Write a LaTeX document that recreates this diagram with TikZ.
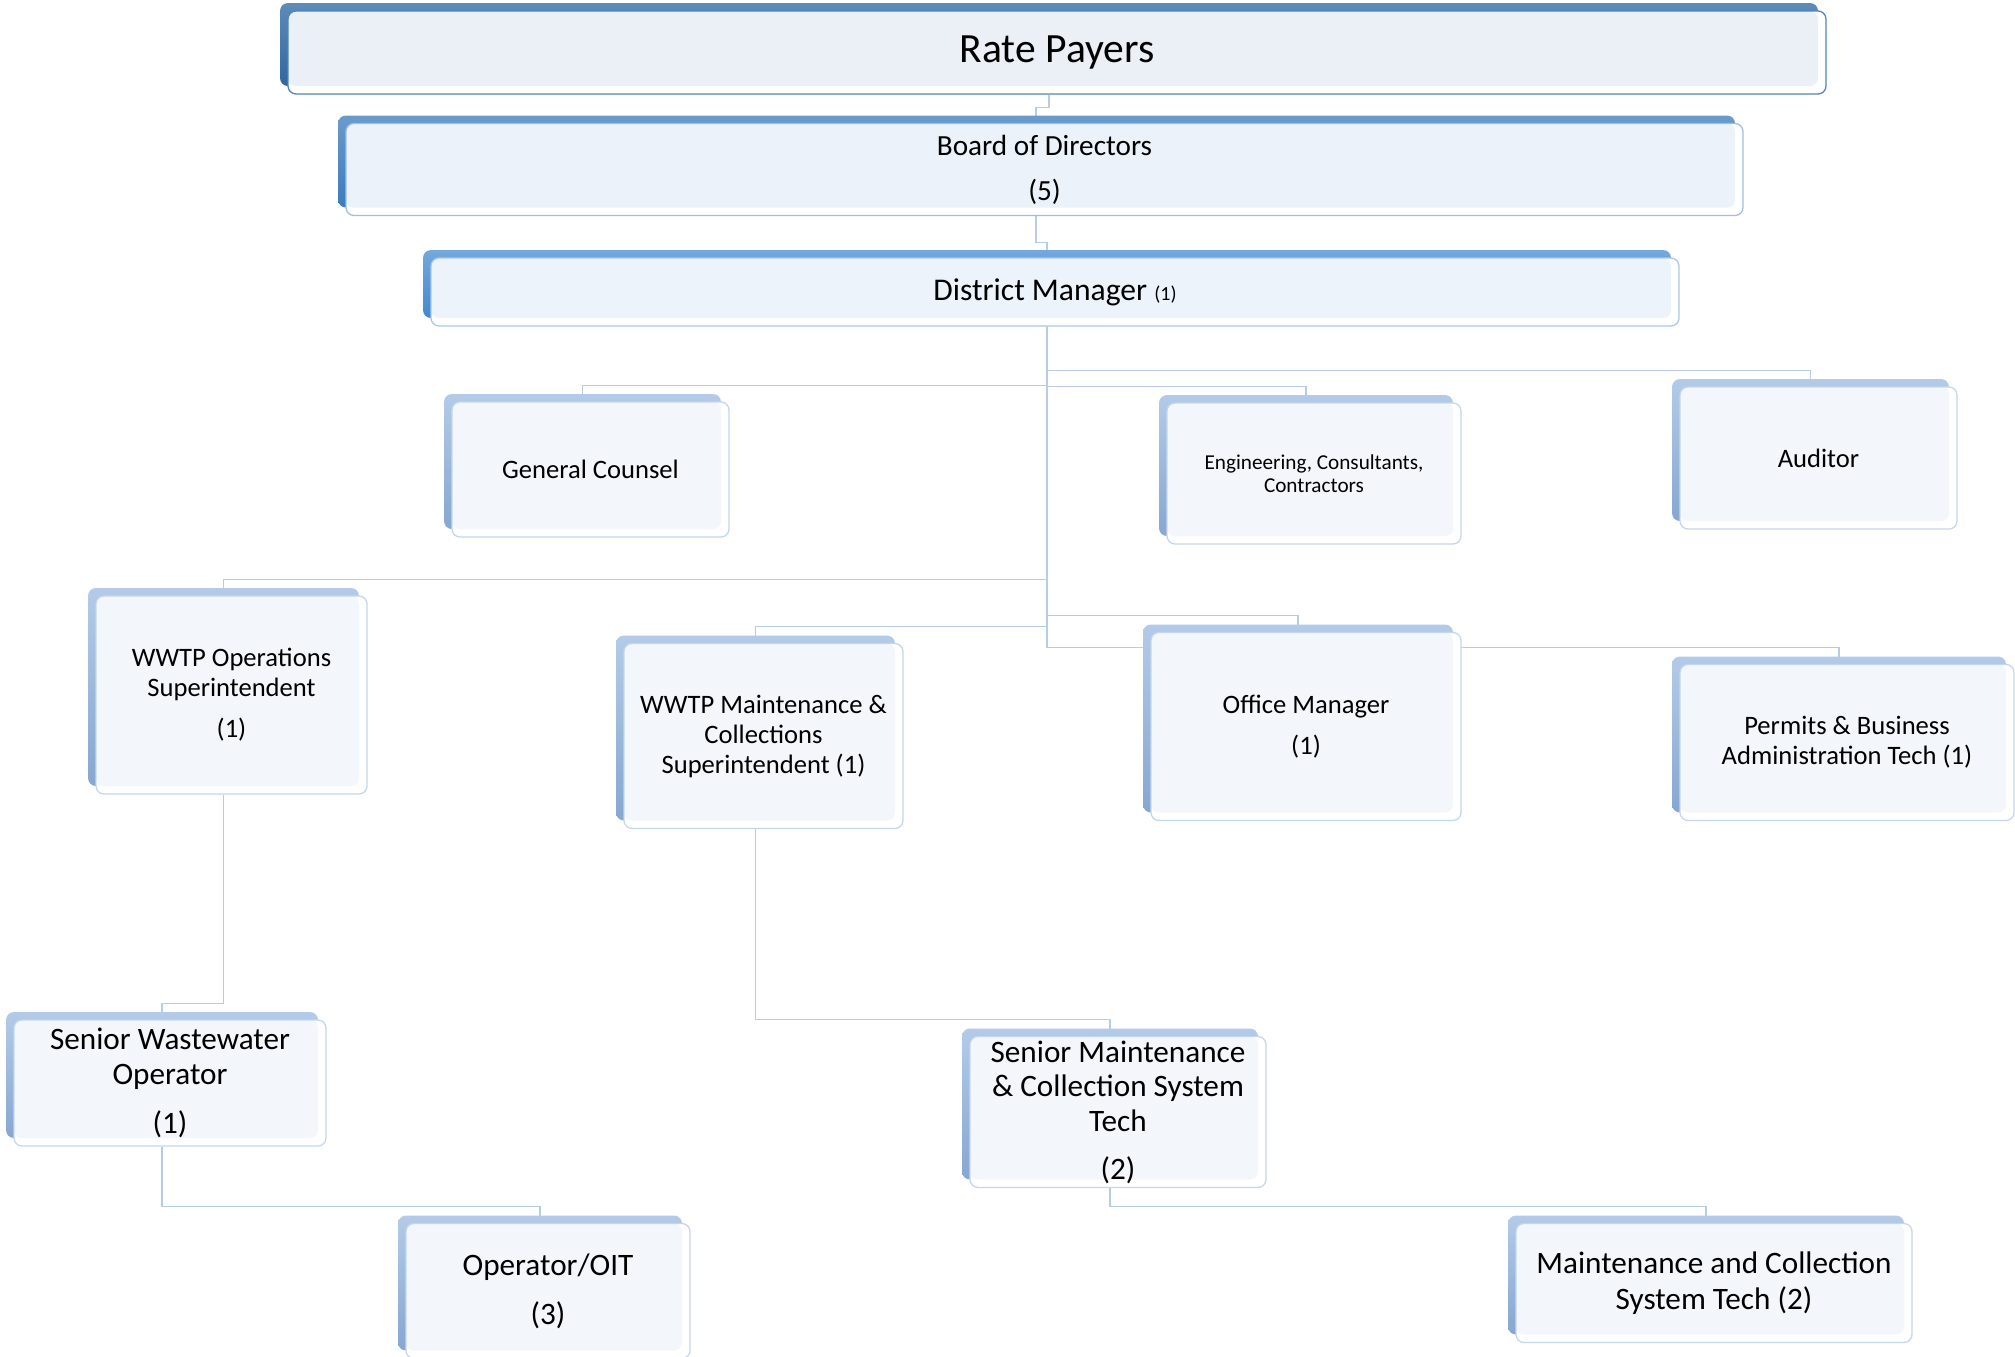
\documentclass[tikz,border=0pt]{standalone}
\usepackage{fontspec}
\setmainfont{Carlito}
\usetikzlibrary{shadows,backgrounds}

\definecolor{ratetop}{HTML}{5E8BB8}
\definecolor{ratebot}{HTML}{2F679F}
\definecolor{ratefill}{HTML}{EAF0F6}
\definecolor{rateedge}{HTML}{4F86BD}
\definecolor{boardtop}{HTML}{6A9BCC}
\definecolor{boardbot}{HTML}{3B7CBE}
\definecolor{boardfill}{HTML}{ECF2F9}
\definecolor{boardedge}{HTML}{9EBFE3}
\definecolor{dmtop}{HTML}{74A8DD}
\definecolor{dmbot}{HTML}{4288D0}
\definecolor{dmfill}{HTML}{EDF3FB}
\definecolor{dmedge}{HTML}{ABC7E8}
\definecolor{lowtop}{HTML}{B3CBE8}
\definecolor{lowbot}{HTML}{86A7D0}
\definecolor{lowfill}{HTML}{F3F6FA}
\definecolor{lowedge}{HTML}{C5D6EC}
\definecolor{linkblue}{HTML}{B8CCE5}

\begin{document}
\begin{tikzpicture}[x=0.5pt,y=-0.5pt,
    box/.style={draw=#1edge, line width=0.65pt, fill=white, rounded corners=4pt,
        inner sep=2pt, align=center, font=\fontsize{13.3}{15}\selectfont,
        general shadow={shadow xshift=-4pt, shadow yshift=4pt, top color=#1top, bottom color=#1bot},
        path picture={\fill[#1fill, rounded corners=4pt] (path picture bounding box.north west)
            rectangle ([xshift=-4pt,yshift=4pt]path picture bounding box.south east);}},
    box/.default=low,
    big/.style={font=\fontsize{15.6}{17.25}\selectfont},
    link/.style={draw=linkblue, line width=0.6pt}]
    \useasboundingbox (0,0) rectangle (2015,1356);

    % top of the chart
    \node[box=rate, minimum width=769pt, minimum height=41.5pt, font=\fontsize{20.8}{24}\selectfont] (rate) at (1057,52.5) {Rate Payers};
    \node[box=board, minimum width=698.5pt, minimum height=46pt, font=\fontsize{14.6}{17}\selectfont] (board) at (1044.5,169.5) {Board of Directors\\[5.5pt](5)};
    \node[box=dm, minimum width=624pt, minimum height=34pt, font=\fontsize{15.8}{18}\selectfont] (dm) at (1055,292) {District Manager {\fontsize{10}{12}\selectfont(1)}};

    % direct reports
    \node[box, minimum width=138.5pt, minimum height=67.5pt] (gc) at (590.5,469.5) {General Counsel};
    \node[box, minimum width=147pt, minimum height=70.5pt, font=\fontsize{10.6}{11.5}\selectfont] (eng) at (1314,473.5) {Engineering, Consultants,\\Contractors};
    \node[box, minimum width=138.5pt, minimum height=71pt] (aud) at (1818.5,458) {Auditor};

    \node[box, minimum width=135.5pt, minimum height=99pt] (ops) at (231.5,695) {WWTP Operations\\Superintendent\\[5.5pt](1)};
    \node[box, minimum width=139.5pt, minimum height=92.5pt] (wmaint) at (763.5,736) {WWTP Maintenance \&\\Collections\\Superintendent (1)};
    \node[box, minimum width=155pt, minimum height=94pt] (office) at (1306,726.5) {Office Manager\\[5.5pt](1)};
    \node[box, minimum width=167pt, minimum height=78pt] (pbat) at (1847,742.5) {Permits \& Business\\Administration Tech (1)};

    % field staff
    \node[box, big, minimum width=156pt, minimum height=63pt] (sww) at (170,1083) {Senior Wastewater\\Operator\\[7.25pt](1)};
    \node[box, big, minimum width=148pt, minimum height=75.5pt] (smaint) at (1118,1112) {Senior Maintenance\\\& Collection System\\Tech\\[6.75pt](2)};
    \node[box, big, minimum width=142pt, minimum height=67.5pt] (oit) at (548,1291) {Operator/OIT\\[7.25pt](3)};
    \node[box, big, minimum width=198pt, minimum height=59.5pt] (mcst) at (1714,1283) {Maintenance and Collection\\[0.75pt]System Tech (2)};

    \begin{pgfonlayer}{background}
    \draw[link] ([xshift=-4pt]rate.south) |- ([xshift=-4.25pt,yshift=7.5pt]board.north) -- ([xshift=-4.25pt]board.north);
    \draw[link] ([xshift=-4.25pt]board.south) |- ([xshift=-4pt,yshift=7.5pt]dm.north) -- ([xshift=-4pt]dm.north);
    \coordinate (trunk) at ([xshift=-4pt]dm.south);
    \foreach \n in {aud,gc,eng,ops,wmaint,office,pbat}{
        \draw[link] (trunk) |- ([xshift=-4pt,yshift=8pt]\n.north) -- ([xshift=-4pt]\n.north);
    }
    \foreach \a/\b in {ops/sww,sww/oit,wmaint/smaint,smaint/mcst}{
        \draw[link] ([xshift=-4pt]\a.south) |- ([xshift=-4pt,yshift=8pt]\b.north) -- ([xshift=-4pt]\b.north);
    }
    \end{pgfonlayer}
\end{tikzpicture}
\end{document}
